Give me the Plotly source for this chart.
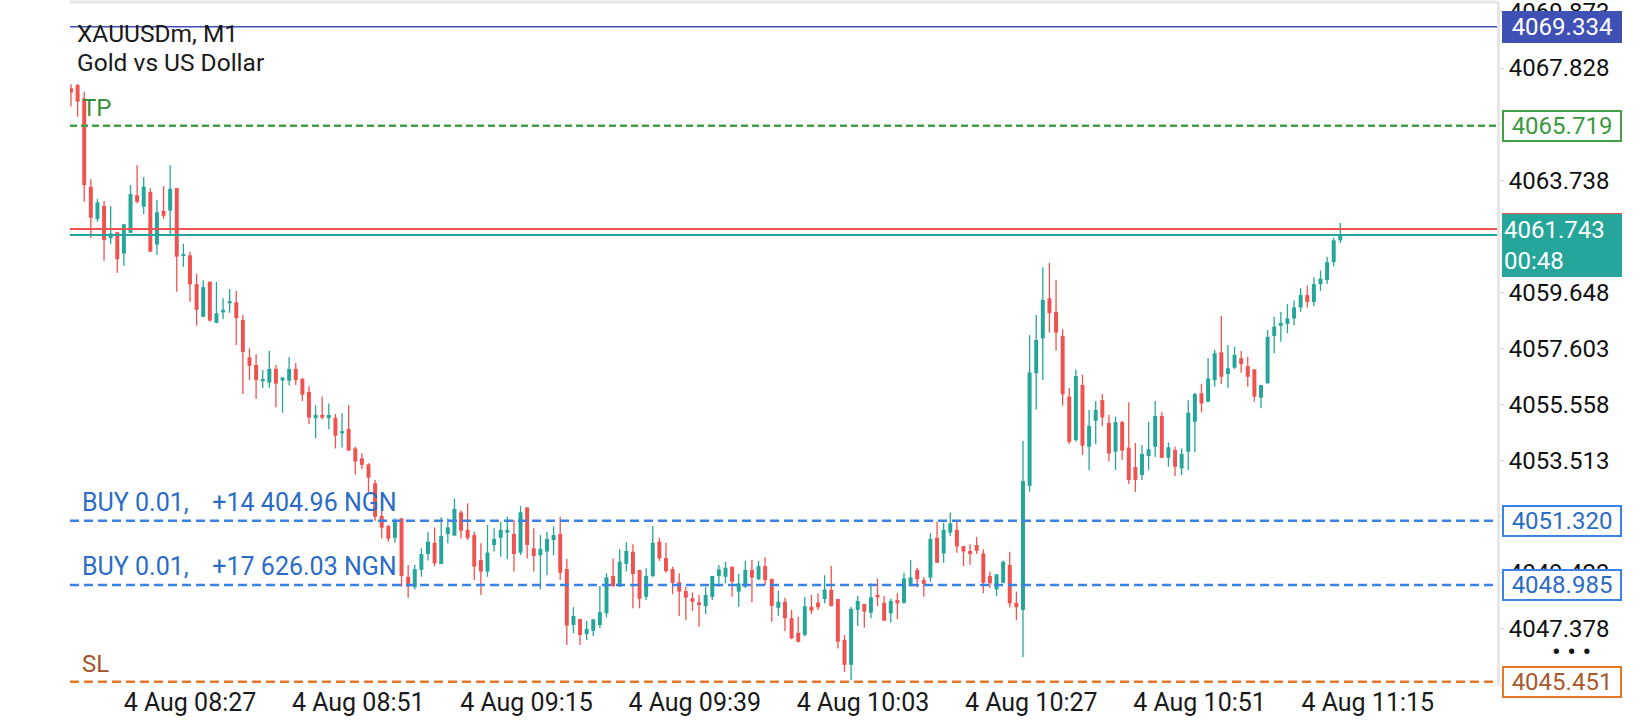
import plotly.graph_objects as go

# XAUUSDm M1 candles, oldest first
opens = [
    4067.09, 4067.21, 4066.72, 4063.50, 4062.32, 4062.80, 4061.62, 4061.84, 4061.06, 4061.82,
    4063.19, 4062.77, 4063.31, 4061.39, 4062.62, 4062.63, 4063.45, 4061.00, 4061.00, 4059.95,
    4058.76, 4060.03, 4058.54, 4058.92, 4059.25, 4059.29, 4058.64, 4057.28, 4057.00, 4056.41,
    4056.36, 4056.86, 4056.44, 4056.43, 4056.86, 4056.50, 4056.02, 4055.06, 4055.18, 4055.06,
    4055.08, 4054.51, 4054.67, 4053.96, 4053.60, 4053.38, 4052.69, 4051.50, 4051.13, 4050.70,
    4051.41, 4049.28, 4048.90, 4049.53, 4050.11, 4050.52, 4049.75, 4050.84, 4050.78, 4051.63,
    4050.99, 4050.80, 4049.89, 4049.47, 4050.44, 4050.70, 4050.89, 4050.84, 4050.16, 4051.81,
    4050.32, 4050.07, 4050.20, 4050.62, 4050.84, 4049.56, 4047.52, 4047.74, 4047.19, 4047.31,
    4047.52, 4047.95, 4049.31, 4048.92, 4049.75, 4050.19, 4049.53, 4048.55, 4049.31, 4050.56,
    4049.96, 4049.56, 4049.08, 4048.76, 4048.50, 4048.35, 4048.21, 4048.55, 4049.31, 4049.28,
    4049.65, 4048.74, 4048.92, 4049.53, 4049.19, 4049.67, 4049.20, 4048.15, 4048.37, 4047.77,
    4047.24, 4047.16, 4048.19, 4048.34, 4048.47, 4048.80, 4048.47, 4046.98, 4046.07, 4048.07,
    4048.29, 4047.97, 4048.62, 4048.33, 4047.95, 4048.43, 4048.33, 4048.94, 4049.53, 4049.16,
    4049.25, 4050.70, 4050.13, 4050.89, 4050.99, 4050.40, 4050.22, 4050.44, 4050.13, 4049.31,
    4048.82, 4049.06, 4049.71, 4048.33, 4048.07, 4052.60, 4056.70, 4057.97, 4059.43, 4058.94,
    4058.06, 4055.85, 4054.27, 4056.27, 4054.02, 4054.97, 4055.72, 4054.89, 4053.84, 4054.92,
    4053.99, 4053.28, 4052.99, 4053.68, 4054.02, 4055.14, 4053.62, 4053.90, 4053.23, 4053.84,
    4054.93, 4055.97, 4055.66, 4056.45, 4057.46, 4056.67, 4056.90, 4057.25, 4056.96, 4056.84,
    4055.81, 4056.33, 4058.06, 4058.43, 4058.50, 4058.70, 4059.10, 4059.55, 4059.30, 4059.95,
    4060.10, 4060.75, 4061.55,
]
highs = [
    4067.24, 4067.24, 4066.96, 4063.77, 4063.05, 4062.98, 4062.80, 4061.86, 4062.13, 4063.56,
    4064.28, 4063.85, 4063.44, 4063.02, 4063.52, 4064.28, 4063.45, 4061.42, 4061.13, 4060.32,
    4060.09, 4060.05, 4060.03, 4059.43, 4059.77, 4059.70, 4058.82, 4057.61, 4057.40, 4056.82,
    4057.52, 4057.00, 4056.57, 4057.28, 4057.07, 4056.53, 4056.23, 4055.54, 4055.85, 4055.60,
    4055.21, 4055.24, 4055.54, 4054.02, 4053.78, 4053.42, 4052.81, 4052.08, 4051.17, 4051.41,
    4051.41, 4049.71, 4049.71, 4050.32, 4050.92, 4051.08, 4051.45, 4051.41, 4052.14, 4051.71,
    4051.96, 4050.92, 4050.50, 4051.17, 4051.05, 4051.29, 4051.47, 4051.35, 4051.86, 4051.81,
    4051.05, 4050.80, 4050.92, 4051.11, 4051.47, 4049.93, 4048.17, 4047.74, 4047.67, 4047.73,
    4048.94, 4049.41, 4049.95, 4050.28, 4050.54, 4050.47, 4049.53, 4049.59, 4051.13, 4050.71,
    4050.52, 4049.65, 4049.41, 4048.92, 4048.71, 4048.62, 4048.92, 4049.31, 4049.71, 4049.83,
    4049.65, 4049.38, 4049.86, 4049.89, 4049.86, 4049.99, 4049.22, 4048.77, 4048.52, 4048.07,
    4047.82, 4048.55, 4048.62, 4048.68, 4049.34, 4049.67, 4048.47, 4047.16, 4048.19, 4048.58,
    4048.29, 4049.04, 4049.22, 4048.58, 4048.49, 4048.68, 4049.43, 4049.89, 4049.61, 4049.26,
    4050.87, 4051.29, 4051.25, 4051.62, 4051.29, 4050.40, 4050.47, 4050.74, 4050.28, 4049.47,
    4049.37, 4049.87, 4050.19, 4048.74, 4054.23, 4058.09, 4058.82, 4060.56, 4060.73, 4060.10,
    4058.30, 4056.16, 4056.84, 4056.64, 4055.36, 4055.69, 4055.94, 4055.18, 4055.12, 4054.97,
    4055.64, 4054.16, 4054.08, 4054.93, 4055.69, 4055.28, 4054.18, 4054.02, 4053.96, 4055.72,
    4055.99, 4056.31, 4057.25, 4057.55, 4058.79, 4057.73, 4057.67, 4057.51, 4057.30, 4056.84,
    4056.27, 4058.28, 4058.76, 4058.93, 4059.22, 4059.35, 4059.80, 4059.90, 4060.20, 4060.45,
    4060.95, 4061.65, 4062.18,
]
lows = [
    4066.42, 4066.05, 4062.95, 4061.64, 4062.22, 4060.80, 4061.40, 4060.36, 4060.62, 4061.82,
    4062.90, 4062.51, 4061.13, 4061.01, 4062.33, 4061.77, 4059.67, 4060.58, 4059.31, 4058.43,
    4058.74, 4058.58, 4058.52, 4058.67, 4058.91, 4057.73, 4055.94, 4056.45, 4055.76, 4056.16,
    4056.17, 4055.46, 4055.26, 4056.25, 4056.27, 4055.68, 4054.85, 4054.33, 4055.02, 4054.66,
    4053.96, 4053.99, 4053.88, 4053.01, 4053.21, 4052.35, 4051.32, 4050.68, 4050.56, 4050.52,
    4048.92, 4048.52, 4048.82, 4049.28, 4049.87, 4049.67, 4049.75, 4050.50, 4050.78, 4050.68,
    4050.62, 4049.16, 4048.62, 4049.28, 4050.20, 4050.01, 4049.92, 4049.47, 4050.07, 4049.95,
    4049.47, 4048.82, 4049.34, 4050.07, 4049.16, 4046.79, 4047.22, 4046.79, 4046.98, 4047.12,
    4047.40, 4047.80, 4048.92, 4048.92, 4049.47, 4048.13, 4048.13, 4048.43, 4049.26, 4049.86,
    4049.43, 4048.64, 4047.85, 4047.70, 4048.03, 4047.46, 4047.92, 4048.43, 4048.92, 4049.04,
    4048.55, 4048.19, 4048.86, 4048.35, 4049.16, 4048.98, 4047.64, 4047.86, 4047.30, 4047.00,
    4046.88, 4047.10, 4047.92, 4048.07, 4048.31, 4048.21, 4046.67, 4045.81, 4045.52, 4047.49,
    4047.42, 4047.77, 4048.21, 4047.68, 4047.61, 4047.73, 4048.31, 4048.92, 4048.90, 4048.55,
    4049.10, 4049.79, 4049.79, 4050.77, 4050.16, 4049.67, 4049.71, 4050.11, 4048.68, 4048.86,
    4048.58, 4049.04, 4048.17, 4047.70, 4046.36, 4052.38, 4055.38, 4056.45, 4058.18, 4057.52,
    4055.52, 4054.12, 4054.20, 4053.72, 4053.17, 4054.12, 4054.78, 4053.48, 4053.17, 4053.54,
    4052.66, 4052.37, 4052.81, 4053.17, 4053.66, 4053.62, 4053.29, 4052.95, 4052.99, 4053.17,
    4053.82, 4055.27, 4055.66, 4056.21, 4056.31, 4056.15, 4056.86, 4056.72, 4056.21, 4055.66,
    4055.42, 4056.33, 4057.43, 4057.85, 4058.16, 4058.45, 4058.95, 4059.10, 4059.15, 4059.70,
    4059.95, 4060.60, 4061.45,
]
closes = [
    4066.93, 4066.60, 4063.56, 4062.37, 4062.93, 4061.56, 4061.80, 4060.86, 4062.13, 4063.23,
    4062.95, 4063.50, 4061.13, 4062.57, 4062.44, 4063.42, 4060.95, 4061.05, 4059.94, 4059.01,
    4059.84, 4058.62, 4058.88, 4059.01, 4059.33, 4058.71, 4057.48, 4056.97, 4056.45, 4056.49,
    4056.86, 4056.32, 4056.54, 4056.86, 4056.45, 4055.92, 4055.08, 4055.18, 4055.08, 4055.18,
    4054.42, 4054.59, 4053.88, 4053.48, 4053.36, 4052.89, 4051.47, 4051.07, 4050.67, 4051.32,
    4049.31, 4048.92, 4049.56, 4050.11, 4050.56, 4049.77, 4050.77, 4051.08, 4051.75, 4050.96,
    4050.70, 4049.65, 4049.47, 4050.16, 4050.66, 4050.99, 4050.99, 4050.11, 4051.63, 4050.44,
    4050.04, 4050.29, 4050.66, 4050.80, 4049.43, 4047.50, 4047.85, 4047.16, 4047.38, 4047.73,
    4047.99, 4049.26, 4048.94, 4049.83, 4050.22, 4049.38, 4048.48, 4049.31, 4050.52, 4049.95,
    4049.49, 4049.06, 4048.74, 4048.52, 4048.37, 4048.25, 4048.62, 4049.31, 4049.55, 4049.61,
    4049.10, 4049.04, 4049.53, 4049.25, 4049.67, 4049.16, 4048.22, 4048.37, 4047.77, 4047.04,
    4046.91, 4048.21, 4048.04, 4048.17, 4048.82, 4048.21, 4046.91, 4046.07, 4048.11, 4048.40,
    4048.01, 4048.53, 4048.53, 4047.68, 4048.40, 4048.31, 4049.22, 4049.26, 4049.19, 4049.02,
    4050.66, 4049.79, 4050.99, 4051.23, 4050.38, 4050.20, 4050.11, 4050.23, 4049.06, 4049.04,
    4049.37, 4049.83, 4048.31, 4048.17, 4052.77, 4056.73, 4057.91, 4059.37, 4058.89, 4058.18,
    4055.93, 4054.20, 4056.60, 4054.06, 4054.78, 4055.36, 4055.09, 4053.77, 4054.92, 4053.88,
    4052.81, 4052.81, 4053.76, 4053.93, 4055.14, 4053.62, 4054.00, 4053.29, 4053.76, 4055.26,
    4055.94, 4055.60, 4056.51, 4057.43, 4056.57, 4056.88, 4057.37, 4057.03, 4056.57, 4055.85,
    4056.27, 4058.03, 4058.40, 4058.54, 4058.70, 4059.10, 4059.55, 4059.30, 4059.95, 4060.15,
    4060.75, 4061.55, 4061.743,
]

time_labels = ["4 Aug 08:27", "4 Aug 08:51", "4 Aug 09:15", "4 Aug 09:39",
               "4 Aug 10:03", "4 Aug 10:27", "4 Aug 10:51", "4 Aug 11:15"]
price_ticks = [4045.333, 4047.378, 4049.423, 4051.468, 4053.513, 4055.558, 4057.603,
               4059.648, 4061.693, 4063.738, 4065.783, 4067.828, 4069.873]

symbol = "XAUUSDm, M1"
description = "Gold vs US Dollar"
bid = 4061.743
ask = 4061.960
countdown = "00:48"
alert_level = 4069.334
take_profit = 4065.719
stop_loss = 4045.451
buy_levels = [4051.320, 4048.985]
buy_texts = ["BUY 0.01,\u00a0\u00a0\u00a0\u2009+14 404.96 NGN",
             "BUY 0.01,\u00a0\u00a0\u00a0\u2009+17 626.03 NGN"]

UP = "#26A69A"
DOWN = "#EF5350"
FONT = "Roboto"


def price_box(fig, price, text, bg, border, color, **kw):
    """Boxed price label in the right margin, like the MT5 app."""
    fig.add_annotation(
        xref="paper", x=1, xanchor="left", xshift=5,
        yref="y", y=price, yanchor=kw.pop("yanchor", "middle"),
        text=text, showarrow=False, width=116, align=kw.pop("align", "center"),
        bgcolor=bg, bordercolor=border, borderwidth=2, borderpad=0,
        font=dict(family=FONT, size=24, color=color), **kw,
    )


def level_line(fig, price, color, width, dash="solid"):
    fig.add_shape(type="line", xref="paper", x0=0, x1=1, yref="y", y0=price, y1=price,
                  line=dict(color=color, width=width, dash=dash))


def level_text(fig, price, text, color, size=24):
    fig.add_annotation(xref="paper", x=0, xanchor="left", xshift=10,
                       yref="y", y=price, yanchor="bottom", yshift=2,
                       text=text, showarrow=False,
                       font=dict(family=FONT, size=size, color=color))


def build_figure() -> go.Figure:
    idx = list(range(len(opens)))
    colors = [UP if c >= o else DOWN for o, c in zip(opens, closes)]

    # wicks, one trace per colour
    wick_x = {UP: [], DOWN: []}
    wick_y = {UP: [], DOWN: []}
    for i, h, l, col in zip(idx, highs, lows, colors):
        wick_x[col] += [i, i, None]
        wick_y[col] += [l, h, None]

    fig = go.Figure()
    for col in (UP, DOWN):
        fig.add_trace(go.Scatter(x=wick_x[col], y=wick_y[col], mode="lines",
                                 line=dict(color=col, width=1.3), hoverinfo="skip"))
    fig.add_trace(go.Bar(
        x=idx,
        y=[max(abs(c - o), 0.05) for o, c in zip(opens, closes)],
        base=[min(o, c) for o, c in zip(opens, closes)],
        width=0.6, marker=dict(color=colors, line=dict(width=0)),
    ))

    # horizontal levels
    level_line(fig, alert_level, "#3F51B5", 1.5)
    level_line(fig, take_profit, "#43A047", 2.5, "7px,4px")
    level_line(fig, ask, DOWN, 2)
    level_line(fig, bid, UP, 2)
    for lvl in buy_levels:
        level_line(fig, lvl, "#3B82E6", 2.5, "9px,5px")
    level_line(fig, stop_loss, "#E5782A", 2.5, "9px,5px")

    # plot frame (top edge; right edge is the y axis line)
    fig.add_shape(type="line", xref="paper", yref="paper", x0=0, x1=1, y0=1, y1=1,
                  line=dict(color="#E6E6E6", width=3))

    # texts on the chart
    fig.add_annotation(xref="paper", x=0, xanchor="left", xshift=5, yref="paper", y=1,
                       yanchor="middle", yshift=-31, text=symbol, showarrow=False,
                       font=dict(family=FONT, size=24.5, color="#1A1A1A"))
    fig.add_annotation(xref="paper", x=0, xanchor="left", xshift=5, yref="paper", y=1,
                       yanchor="middle", yshift=-60, text=description, showarrow=False,
                       font=dict(family=FONT, size=24.5, color="#1A1A1A"))
    level_text(fig, take_profit, "TP", "#3A8F3E")
    for lvl, txt in zip(buy_levels, buy_texts):
        level_text(fig, lvl, txt, "#2B6CC4", size=25)
    level_text(fig, stop_loss, "SL", "#A0522D")

    # price labels on the right scale
    price_box(fig, alert_level, f"{alert_level:.3f}", "#3F51B5", "#3F51B5", "white")
    price_box(fig, take_profit, f"{take_profit:.3f}", "white", "#43A047", "#3A9A40")
    price_box(fig, ask, f"{ask:.3f}", DOWN, DOWN, "white")
    price_box(fig, bid, f"{bid:.3f}<br>{countdown}", UP, UP, "white",
              yanchor="top", yshift=21, align="left")
    for lvl in buy_levels:
        price_box(fig, lvl, f"{lvl:.3f}", "white", "#3B82E6", "#2B6CC4")
    price_box(fig, stop_loss, f"{stop_loss:.3f}", "white", "#E5782A", "#A65A2E")

    fig.add_annotation(xref="paper", x=1, xanchor="center", xshift=74,
                       yref="paper", y=0.048, yanchor="middle",
                       text="\u2022 \u2022 \u2022", showarrow=False,
                       font=dict(family=FONT, size=26, color="#111111"))

    n = len(opens)
    fig.update_layout(
        width=1640, height=720, autosize=False,
        margin=dict(l=70, r=143, t=2, b=35),
        plot_bgcolor="white", paper_bgcolor="white",
        showlegend=False, barmode="overlay",
        font=dict(family=FONT, size=24, color="#1A1A1A"),
    )
    fig.update_xaxes(
        range=[-0.15, n + 22.7], automargin=False,
        tickvals=[18.0 + 25.45 * k for k in range(len(time_labels))],
        ticktext=time_labels, ticks="", showgrid=False, zeroline=False, showline=False,
        tickfont=dict(family=FONT, size=25, color="#1A1A1A"),
    )
    fig.update_yaxes(
        side="right", range=[4045.335, 4070.234], automargin=False,
        tickvals=price_ticks, ticktext=[f"{t:.3f}" for t in price_ticks],
        ticks="outside", ticklen=4, tickcolor="#D6D6D6",
        showline=True, linecolor="#E6E6E6", linewidth=3,
        showgrid=False, zeroline=False, ticklabeloverflow="allow",
        tickfont=dict(family=FONT, size=24, color="#111111"),
    )
    return fig


if __name__ == "__main__":
    fig = build_figure()
    # the page is shot edge to edge, so drop the browser's default body margin
    fig.write_html("out.html", config={"displayModeBar": False},
                   post_script="document.body.style.margin='0';document.body.style.overflow='hidden';")
